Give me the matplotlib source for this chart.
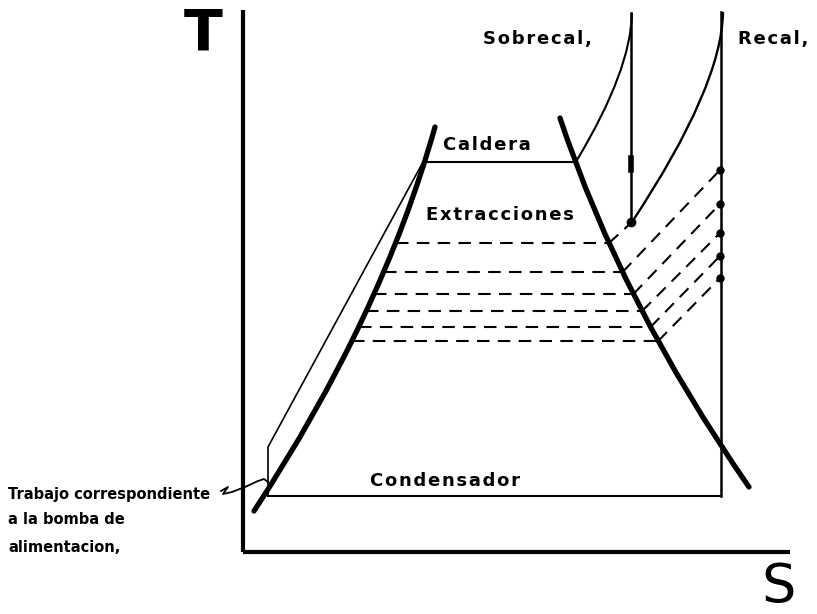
import numpy as np
import matplotlib
matplotlib.use("Agg")
import matplotlib.pyplot as plt
from matplotlib.path import Path
from matplotlib.patches import PathPatch

# diagram units: S to the right, T upwards (about the pixels of the sketch)
# each curve: start, control, end (quadratic, hand drawn look)
liq_s = [254, 381.5, 435]
liq_t = [103, 297, 487]

vap_s = [560, 621.5, 749]
vap_t = [496, 310.5, 127]

sobrecal_s = [577, 631, 632]
sobrecal_t = [454, 544, 601]

recal_s = [632, 722, 723]
recal_t = [392, 528, 602]

pump_s = [268, 268, 423]
pump_t = [118, 167, 452]

t_caldera = 452
s_caldera = [423, 577]
t_cond = 118
s_cond = [268, 721]
s_exp1 = 631
t_exp1 = [392, 601]
s_exp2 = 721
t_exp2 = [118, 602]

# extracciones
ext_t = [371, 342, 320, 303, 287, 273]
ext_end_s = [632, 720, 720, 720, 720, 720]
ext_end_t = [392, 444, 410, 381, 358, 336]

k = "black"


def curve(ax, s, t, lw, cap="round"):
    verts = list(zip(s, t))
    path = Path(verts, [Path.MOVETO, Path.CURVE3, Path.CURVE3])
    ax.add_patch(PathPatch(path, fill=False, edgecolor=k, lw=lw, capstyle=cap))


def s_at(s, t, tt):
    # punto de la curva a la temperatura tt
    u = np.linspace(0, 1, 400)
    cs = (1 - u) ** 2 * s[0] + 2 * u * (1 - u) * s[1] + u ** 2 * s[2]
    ct = (1 - u) ** 2 * t[0] + 2 * u * (1 - u) * t[1] + u ** 2 * t[2]
    if ct[0] > ct[-1]:
        ct, cs = ct[::-1], cs[::-1]
    return np.interp(tt, ct, cs)


def spaced(txt):
    return "\u200a".join(txt)


fig = plt.figure(figsize=(8.17, 6.14), dpi=100)
ax = fig.add_axes([0, 0, 1, 1])
ax.set_xlim(0, 817)
ax.set_ylim(0, 614)
ax.axis("off")

# ejes
ax.plot([243, 243], [604, 62], color=k, lw=3.0, solid_capstyle="butt")
ax.plot([243, 790], [62, 62], color=k, lw=3.0, solid_capstyle="butt")

# campana
curve(ax, liq_s, liq_t, 3.8)
curve(ax, vap_s, vap_t, 3.8)

# ciclo
ax.plot(pump_s, pump_t, color=k, lw=1.2)
ax.plot(s_caldera, [t_caldera, t_caldera], color=k, lw=1.5)
ax.plot(s_cond, [t_cond, t_cond], color=k, lw=1.5)
curve(ax, sobrecal_s, sobrecal_t, 1.5, "butt")
curve(ax, recal_s, recal_t, 1.7, "butt")
ax.plot([s_exp1, s_exp1], t_exp1, color=k, lw=1.8)
ax.plot([s_exp2, s_exp2], t_exp2, color=k, lw=1.8)
ax.plot([s_exp1, s_exp1], [444, 456], color=k, lw=4)
ax.plot([s_exp1], [392], "o", color=k, ms=6)

dash = (0, (6, 4))
for i in range(len(ext_t)):
    left = s_at(liq_s, liq_t, ext_t[i])
    right = s_at(vap_s, vap_t, ext_t[i])
    ax.plot([left, right], [ext_t[i], ext_t[i]], color=k, lw=1.5, linestyle=dash)
    ax.plot([right, ext_end_s[i]], [ext_t[i], ext_end_t[i]], color=k, lw=1.5, linestyle=dash)
ax.plot(ext_end_s[1:], ext_end_t[1:], "o", color=k, ms=5, linestyle="none")

# flecha del texto de la bomba
lead_s = [221, 228, 223, 232, 245, 258, 264, 268]
lead_t = [123, 127, 120, 122, 127, 133, 135, 132]
ax.plot(lead_s, lead_t, color=k, lw=1.3)

# textos
ax.text(203, 564, "T", fontsize=41, fontweight="bold", ha="center", va="baseline")
ax.text(779, 1, "S", fontsize=39, ha="center", va="bottom")
ax.text(483, 575, spaced("Sobrecal,"), fontsize=13, fontweight="bold", ha="left", va="center")
ax.text(738, 575, spaced("Recal,"), fontsize=13, fontweight="bold", ha="left", va="center")
ax.text(487, 469, spaced("Caldera"), fontsize=13, fontweight="bold", ha="center", va="center")
ax.text(500, 399, spaced("Extracciones"), fontsize=13, fontweight="bold", ha="center", va="center")
ax.text(445, 133, spaced("Condensador"), fontsize=13, fontweight="bold", ha="center", va="center")
ax.text(8, 119, "Trabajo correspondiente", fontsize=10.5, fontweight="bold", ha="left", va="center")
ax.text(8, 94, "a la bomba de", fontsize=10.5, fontweight="bold", ha="left", va="center")
ax.text(8, 66, "alimentacion,", fontsize=10.5, fontweight="bold", ha="left", va="center")

fig.savefig("out.png", dpi=100)
